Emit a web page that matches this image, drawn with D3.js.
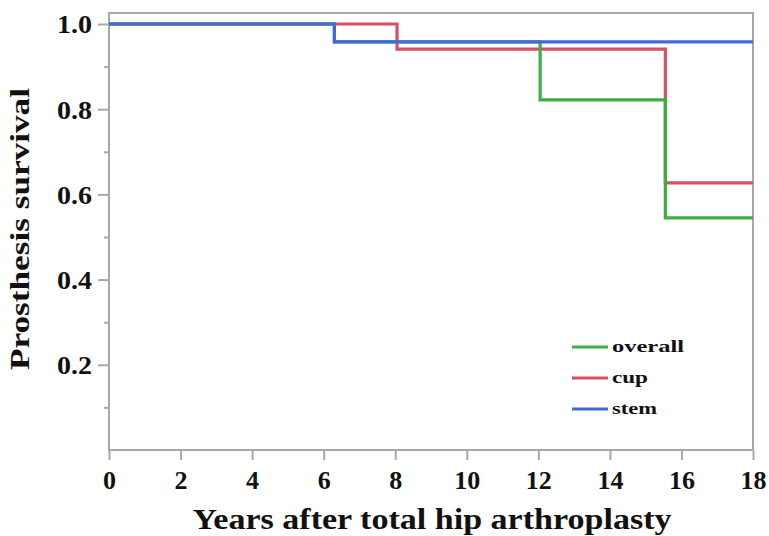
<!DOCTYPE html>
<html><head><meta charset="utf-8">
<script src="https://cdn.jsdelivr.net/npm/d3@7"></script>
<style>body{margin:0;background:#fff}svg{display:block}text{font-family:"Liberation Serif","Times New Roman",serif;font-weight:bold}</style>
</head><body>
<svg id="c" width="769" height="536"></svg>
<script>
// Step survival data: [time, survival]
const overall = [[0,1.0],[6.3,0.958],[12.05,0.822],[15.55,0.545],[18,0.545]];
const cup = [[0,1.0],[8.05,0.941],[15.55,0.627],[18,0.627]];
const stem = [[0,1.0],[6.3,0.958],[18,0.958]];
const seriesNames = ["overall","cup","stem"];
const seriesColors = ["#3dae45","#d6505f","#4169d9"];
const xTicks = [0,2,4,6,8,10,12,14,16,18];
const yMajor = [0.2,0.4,0.6,0.8,1.0];
const yMinor = [0.1,0.3,0.5,0.7,0.9];

const svg = d3.select("#c");
const L=109, R=753, T=13, B=450;
const x = d3.scaleLinear().domain([0,18]).range([L,R]);
const y = d3.scaleLinear().domain([0,1]).range([B,24]);
const frame="#a8a8a8";

svg.append("rect").attr("x",L).attr("y",T).attr("width",R-L).attr("height",B-T)
  .attr("fill","none").attr("stroke",frame).attr("stroke-width",2);

// x axis
const xa = svg.append("g").attr("transform",`translate(0,${B})`)
  .call(d3.axisBottom(x).tickValues(xTicks).tickSize(10).tickPadding(0).tickFormat(d3.format("d")));
xa.select(".domain").remove();
xa.selectAll("line").attr("stroke",frame).attr("stroke-width",2);
xa.selectAll("text").attr("fill","#111").attr("y",39).attr("dy",null)
  .style("font-size","26px").style("font-family","Liberation Serif").style("font-weight","bold");

// y axis
const ya = svg.append("g").attr("transform",`translate(${L},0)`)
  .call(d3.axisLeft(y).tickValues(yMajor).tickSize(11).tickPadding(6).tickFormat(d3.format(".1f")));
ya.select(".domain").remove();
ya.selectAll("line").attr("stroke",frame).attr("stroke-width",2);
ya.selectAll("text").attr("fill","#111").attr("x",-17).attr("dy","0.34em")
  .attr("textLength",35).attr("lengthAdjust","spacingAndGlyphs")
  .style("font-size","26px").style("font-family","Liberation Serif").style("font-weight","bold");
const ym = svg.append("g").attr("transform",`translate(${L},0)`)
  .call(d3.axisLeft(y).tickValues(yMinor).tickSize(5).tickFormat(""));
ym.select(".domain").remove();
ym.selectAll("line").attr("stroke",frame).attr("stroke-width",2);

// lines
const line = d3.line().x(d=>x(d[0])).y(d=>y(d[1])).curve(d3.curveStepAfter);
const data = {overall, cup, stem};
["cup","overall","stem"].forEach(n=>{
  const i = seriesNames.indexOf(n);
  svg.append("path").datum(data[n]).attr("d",line).attr("fill","none")
    .attr("stroke",seriesColors[i]).attr("stroke-width",3.2);
});

// legend
const legendWidths = [72,36,45];
const lg = svg.append("g");
seriesNames.forEach((n,i)=>{
  const yy = 347 + i*31;
  lg.append("line").attr("x1",572).attr("x2",608).attr("y1",yy).attr("y2",yy)
    .attr("stroke",seriesColors[i]).attr("stroke-width",3.2);
  lg.append("text").attr("x",612).attr("y",yy+5).attr("fill","#111")
    .attr("textLength",legendWidths[i]).attr("lengthAdjust","spacingAndGlyphs")
    .style("font-size","17px").text(n);
});

// titles
svg.append("text").attr("x",432).attr("y",529).attr("text-anchor","middle").attr("fill","#111")
  .attr("textLength",479).attr("lengthAdjust","spacingAndGlyphs")
  .style("font-size","30px").text("Years after total hip arthroplasty");
svg.append("text").attr("transform","translate(29,229) rotate(-90)").attr("text-anchor","middle").attr("fill","#111")
  .attr("textLength",282).attr("lengthAdjust","spacingAndGlyphs")
  .style("font-size","28px").text("Prosthesis survival");
</script>
</body></html>
